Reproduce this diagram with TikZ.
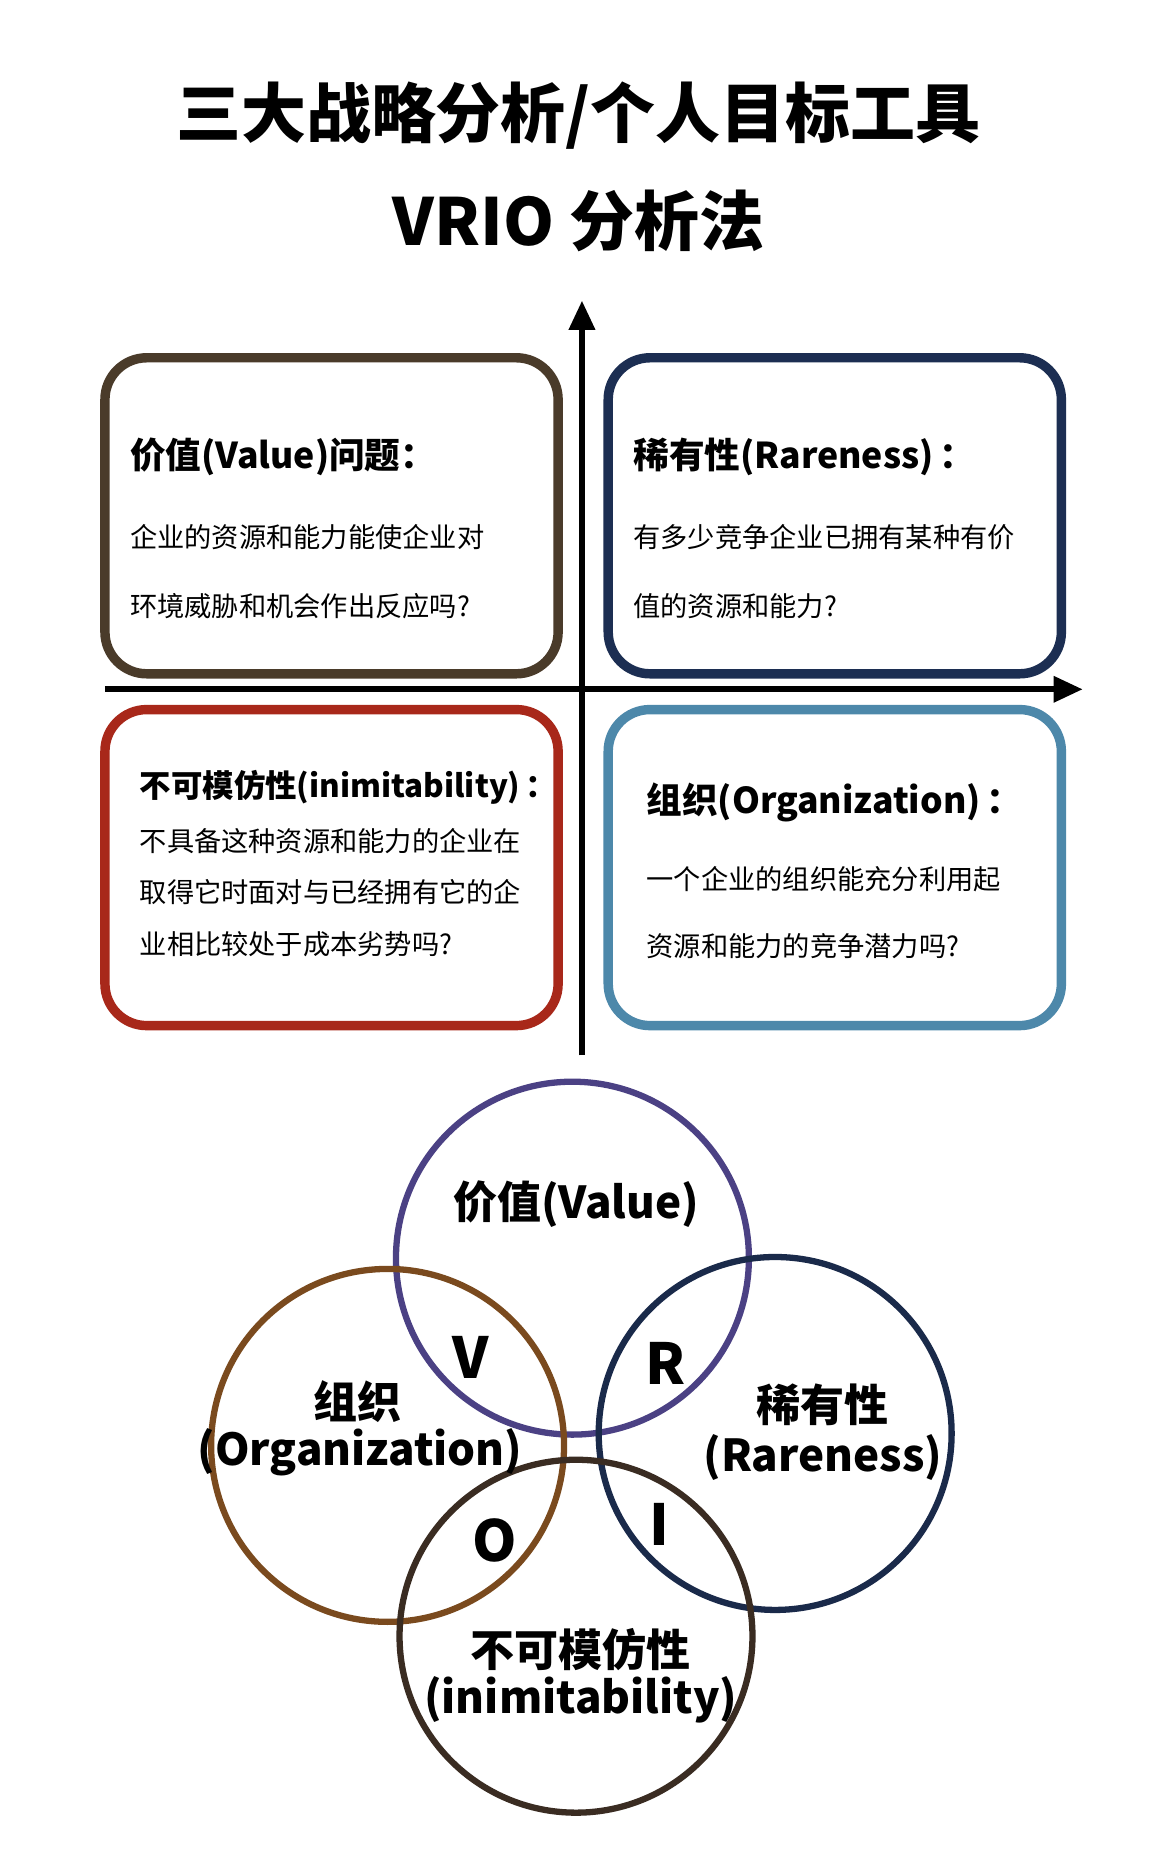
\documentclass[tikz,border=0pt]{standalone}
\usepackage{fontspec}
\setmainfont{Noto Sans CJK SC}
\usepackage{tikz}
\usetikzlibrary{arrows.meta}

\definecolor{valbrown}{HTML}{4A3B2A}
\definecolor{rarenavy}{HTML}{1C2E52}
\definecolor{imired}{HTML}{A8281A}
\definecolor{orgblue}{HTML}{4D88AA}
\definecolor{vpurple}{HTML}{4B4184}
\definecolor{obrown}{HTML}{7A4A1E}
\definecolor{rnavy}{HTML}{1A2A4A}
\definecolor{idark}{HTML}{3A2C22}

\tikzset{
  quad/.style={line width=4.5pt,rounded corners=0.7cm},
  qhead/.style={anchor=west,font=\fontsize{17}{20}\selectfont\bfseries},
  qtext/.style={anchor=west,font=\fontsize{13}{16}\selectfont},
  ring/.style={line width=3pt,circle,minimum size=5.92cm,inner sep=0pt},
  vlabel/.style={font=\fontsize{21}{24}\selectfont\bfseries},
  vletter/.style={font=\fontsize{27}{30}\selectfont\bfseries}
}

\begin{document}
\begin{tikzpicture}[x=0.02cm,y=-0.02cm]

\useasboundingbox[fill=white] (0,0) rectangle (965,1558);

\node[font=\fontsize{31}{36}\selectfont\bfseries] (title1) at (485,97) {三大战略分析/个人目标工具};
\node[font=\fontsize{31}{36}\selectfont\bfseries] (title2) at (485,185) {VRIO 分析法};

\coordinate (vbot) at (488,885);
\coordinate (vtop) at (488,252);
\coordinate (hleft) at (88,578);
\coordinate (hright) at (908,578);
\draw[line width=3pt,-{Triangle[length=14pt,width=12pt]}] (vbot) -- (vtop);
\draw[line width=3pt,-{Triangle[length=14pt,width=12pt]}] (hleft) -- (hright);

\draw[quad,valbrown] (88,300) rectangle (468,565);
\draw[quad,rarenavy] (510,300) rectangle (890,565);
\draw[quad,imired] (88,595) rectangle (468,860);
\draw[quad,orgblue] (510,595) rectangle (890,860);

\node[qhead] (vh) at (103,383) {价值(Value)问题：};
\node[qtext] (v1) at (103,450) {企业的资源和能力能使企业对};
\node[qtext] (v2) at (103,508) {环境威胁和机会作出反应吗?};

\node[qhead] (rh) at (525,383) {稀有性(Rareness)\,：};
\node[qtext] (r1) at (525,450) {有多少竞争企业已拥有某种有价};
\node[qtext] (r2) at (525,508) {值的资源和能力?};

\node[qhead,font=\fontsize{15}{18}\selectfont\bfseries] (ih) at (111,660) {不可模仿性(inimitability)\,：};
\node[qtext] (i1) at (111,705) {不具备这种资源和能力的企业在};
\node[qtext] (i2) at (111,748) {取得它时面对与已经拥有它的企};
\node[qtext] (i3) at (111,792) {业相比较处于成本劣势吗?};

\node[qhead] (oh) at (536,673) {组织(Organization)\,：};
\node[qtext] (o1) at (536,737) {一个企业的组织能充分利用起};
\node[qtext] (o2) at (536,793) {资源和能力的竞争潜力吗?};

\node[ring,draw=vpurple] (cv) at (480,1055) {};
\node[ring,draw=obrown] (co) at (325,1212) {};
\node[ring,draw=rnavy] (cr) at (650,1202) {};
\node[ring,draw=idark] (ci) at (483,1372) {};

\node[vlabel] (lv) at (483,1010) {价值(Value)};
\node[vlabel] (lo1) at (300,1175) {组织};
\node[vlabel] (lo2) at (302,1218) {(Organization)};
\node[vlabel] (lr1) at (690,1178) {稀有性};
\node[vlabel] (lr2) at (690,1222) {(Rareness)};
\node[vlabel] (li1) at (487,1383) {不可模仿性};
\node[vlabel] (li2) at (487,1425) {(inimitability)};

\node[vletter] (V) at (395,1138) {V};
\node[vletter] (R) at (558,1143) {R};
\node[vletter] (O) at (415,1292) {O};
\node[vletter] (I) at (553,1278) {I};
\end{tikzpicture}
\end{document}
